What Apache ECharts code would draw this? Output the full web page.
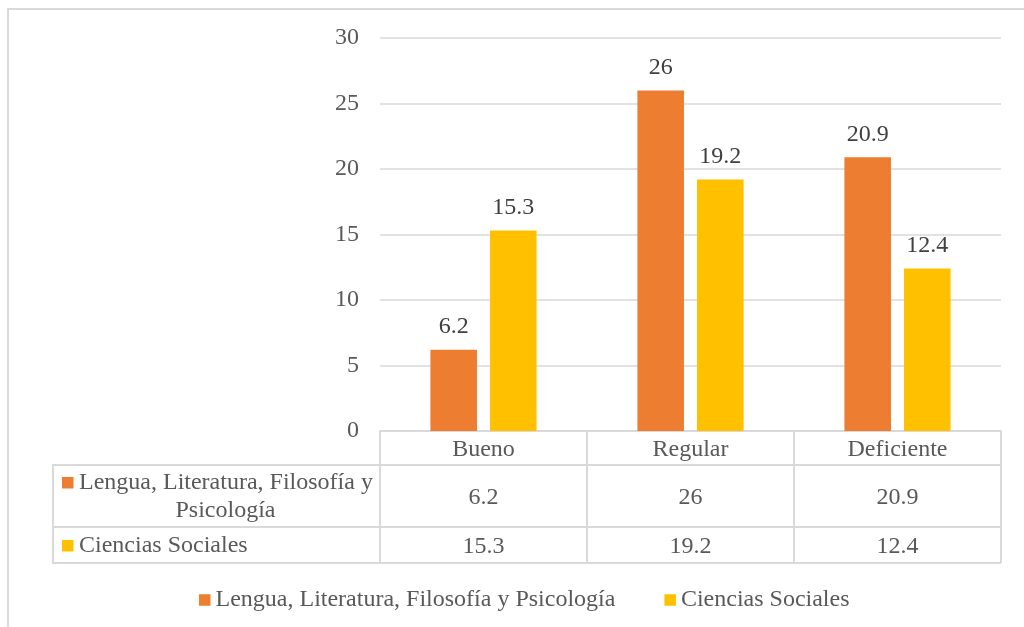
<!DOCTYPE html>
<html>
<head>
<meta charset="utf-8">
<script src="https://cdn.jsdelivr.net/npm/echarts@6/dist/echarts.min.js"></script>
<style>
  html, body { margin: 0; padding: 0; background: #ffffff; }
  #chart { width: 1024px; height: 627px; }
</style>
</head>
<body>
<div id="chart"></div>
<script>
// Data
const categories = ['Bueno', 'Regular', 'Deficiente'];
const seriesNames = ['Lengua, Literatura, Filosofía y Psicología', 'Ciencias Sociales'];
const lenguaValues = [6.2, 26, 20.9];
const socialesValues = [15.3, 19.2, 12.4];
const yMin = 0, yMax = 30, yStep = 5;

// Styling / layout
const FONT = 'Liberation Serif';
const FS = 24;
const TEXT = '#595959';
const LABEL = '#404040';
const LINE = '#D9D9D9';
const colors = ['#ED7D31', '#FFC000'];

const gridL = 380, gridR = 1001, gridT = 38, axisY = 431;
const tableL = 53;
const rowH = [34, 62, 36];               // header row, series 1 row, series 2 row
const row1Top = axisY + rowH[0];          // 465
const row2Top = row1Top + rowH[1];        // 527
const tableB = row2Top + rowH[2];         // 563

const chart = echarts.init(document.getElementById('chart'), null, { renderer: 'canvas' });

function hLine(y, x1, x2) {
  return { type: 'line', silent: true, z: 50,
    shape: { x1: x1, y1: y, x2: x2, y2: y },
    style: { stroke: LINE, lineWidth: 2 } };
}

const nameLine1 = seriesNames[0].replace(/ Psicología$/, '');
const nameLine2 = seriesNames[0].slice(nameLine1.length + 1);

const graphics = [
  // outer frame
  { type: 'rect', silent: true, z: 0,
    shape: { x: 8, y: 9, width: 1040, height: 660 },
    style: { fill: null, stroke: LINE, lineWidth: 2 } },
  // data table rules
  hLine(row1Top, tableL, gridR),
  hLine(row2Top, tableL, gridR),
  hLine(tableB, tableL, gridR),
  { type: 'line', silent: true, z: 50,
    shape: { x1: tableL, y1: row1Top - 1, x2: tableL, y2: tableB + 1 },
    style: { stroke: LINE, lineWidth: 2 } },
  // series keys in the table's first column
  { type: 'rect', silent: true, z: 60,
    shape: { x: 62, y: row1Top + 12, width: 11.5, height: 11.5 },
    style: { fill: colors[0] } },
  { type: 'text', silent: true, z: 60, x: 79, y: row1Top + 18,
    style: { text: nameLine1, fontFamily: FONT, fontSize: FS,
      fill: TEXT, verticalAlign: 'middle', align: 'left' } },
  { type: 'text', silent: true, z: 60, x: 225.5, y: row1Top + 46,
    style: { text: nameLine2, fontFamily: FONT, fontSize: FS,
      fill: TEXT, verticalAlign: 'middle', align: 'center' } },
  { type: 'rect', silent: true, z: 60,
    shape: { x: 62, y: row2Top + 13, width: 11.5, height: 11.5 },
    style: { fill: colors[1] } },
  { type: 'text', silent: true, z: 60, x: 79, y: row2Top + 19,
    style: { text: seriesNames[1], fontFamily: FONT, fontSize: FS,
      fill: TEXT, verticalAlign: 'middle', align: 'left' } }
];

const option = {
  animation: false,
  backgroundColor: '#ffffff',
  textStyle: { fontFamily: FONT },
  grid: { left: gridL, right: 1024 - gridR, top: gridT, bottom: 627 - axisY, containLabel: false },
  legend: {
    data: seriesNames,
    top: 588,
    left: 199,
    padding: 0,
    icon: 'rect',
    itemWidth: 11.5,
    itemHeight: 11.5,
    itemGap: 49,
    textStyle: { fontFamily: FONT, fontSize: FS, color: TEXT }
  },
  xAxis: {
    type: 'category',
    data: categories,
    boundaryGap: true,
    axisLine: { show: true, lineStyle: { color: LINE, width: 2 } },
    axisTick: { show: true, alignWithLabel: false, length: tableB - axisY,
      lineStyle: { color: LINE, width: 2 } },
    splitLine: { show: false },
    axisLabel: {
      interval: 0,
      margin: 2,
      formatter: function (v, i) {
        return '{h|' + v + '}\n{a|' + lenguaValues[i] + '}\n{b|' + socialesValues[i] + '}';
      },
      rich: {
        h: { fontFamily: FONT, fontSize: FS, color: TEXT, lineHeight: rowH[0], height: rowH[0] },
        a: { fontFamily: FONT, fontSize: FS, color: TEXT, lineHeight: rowH[1], height: rowH[1] },
        b: { fontFamily: FONT, fontSize: FS, color: TEXT, lineHeight: rowH[2], height: rowH[2] }
      }
    }
  },
  yAxis: {
    type: 'value',
    min: yMin,
    max: yMax,
    interval: yStep,
    axisLine: { show: false },
    axisTick: { show: false },
    axisLabel: { fontFamily: FONT, fontSize: FS, color: TEXT, margin: 21 },
    splitLine: { lineStyle: { color: LINE, width: 1.5 } }
  },
  series: [
    {
      name: seriesNames[0], type: 'bar', data: lenguaValues,
      barWidth: '22.5%', barGap: '28%',
      itemStyle: { color: colors[0] },
      label: { show: true, position: 'top', distance: 11,
        fontFamily: FONT, fontSize: FS, color: LABEL }
    },
    {
      name: seriesNames[1], type: 'bar', data: socialesValues,
      barWidth: '22.5%', barGap: '28%',
      itemStyle: { color: colors[1] },
      label: { show: true, position: 'top', distance: 11,
        fontFamily: FONT, fontSize: FS, color: LABEL }
    }
  ],
  graphic: graphics
};

chart.setOption(option);
</script>
</body>
</html>
